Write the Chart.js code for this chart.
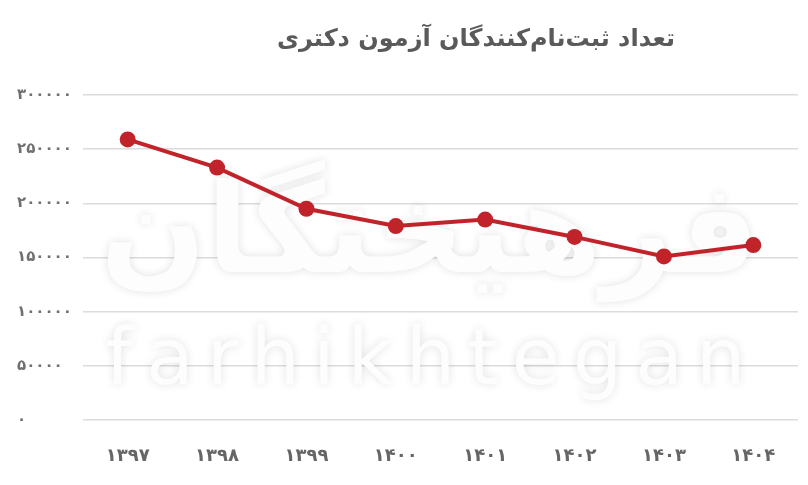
<!DOCTYPE html>
<html>
<head>
<meta charset="utf-8">
<script src="https://cdn.jsdelivr.net/npm/chart.js@4.4.1/dist/chart.umd.min.js"></script>
<style>
  body { margin: 0; background: #fff; }
  #chart { display: block; }
</style>
</head>
<body>
<canvas id="chart" width="808" height="485"></canvas>
<script>
// data
const years = ["۱۳۹۷", "۱۳۹۸", "۱۳۹۹", "۱۴۰۰", "۱۴۰۱", "۱۴۰۲", "۱۴۰۳", "۱۴۰۴"];
const registrants = [259000, 233000, 195000, 179000, 185000, 169000, 151000, 161500];
const yTicks = [0, 50000, 100000, 150000, 200000, 250000, 300000];
const yTickLabels = ["۰", "۵۰۰۰۰", "۱۰۰۰۰۰", "۱۵۰۰۰۰", "۲۰۰۰۰۰", "۲۵۰۰۰۰", "۳۰۰۰۰۰"];
const title = "تعداد ثبت‌نام‌کنندگان آزمون دکتری";

const RED = "#c1232b";
const FONT = "'DejaVu Sans', sans-serif";

// faint site watermark behind the line
const watermark = {
    id: "watermark",
    beforeDatasetsDraw(chart) {
        const ctx = chart.ctx;
        ctx.save();
        ctx.fillStyle = "#fdfdfd";
        ctx.shadowColor = "rgba(0,0,0,0.12)";
        ctx.shadowBlur = 10;
        ctx.textAlign = "center";
        ctx.textBaseline = "alphabetic";
        ctx.font = "bold 124px " + FONT;
        ctx.fillText("فرهیختگان", 430, 272);
        ctx.font = "78px " + FONT;
        ctx.letterSpacing = "13px";
        ctx.fillText("farhikhtegan", 432, 384);
        ctx.restore();
    }
};

// title drawn a bit right of centre like the source
const titlePlugin = {
    id: "titleText",
    afterDraw(chart) {
        const ctx = chart.ctx;
        ctx.save();
        ctx.fillStyle = "#5a5a5a";
        ctx.font = "bold 24px " + FONT;
        ctx.textAlign = "center";
        ctx.textBaseline = "middle";
        ctx.fillText(title, 476, 40);
        ctx.restore();
    }
};

new Chart(document.getElementById("chart"), {
    type: "line",
    data: {
        labels: years,
        datasets: [{
            data: registrants,
            borderColor: RED,
            backgroundColor: RED,
            borderWidth: 4,
            pointRadius: 8,
            pointHoverRadius: 8,
            pointBackgroundColor: RED,
            pointBorderWidth: 0,
            tension: 0
        }]
    },
    plugins: [watermark, titlePlugin],
    options: {
        responsive: false,
        animation: false,
        layout: { padding: { left: 17, right: 10, top: 95, bottom: 0 } },
        plugins: {
            legend: { display: false },
            tooltip: { enabled: false },
            title: { display: false }
        },
        scales: {
            x: {
                offset: true,
                grid: { display: false },
                border: { display: false },
                ticks: {
                    color: "#666",
                    font: { family: FONT, size: 18, weight: "bold" },
                    padding: 18,
                    maxRotation: 0
                },
                afterFit(scale) { scale.height = 65; }
            },
            y: {
                min: 0,
                max: 300000,
                grid: { color: "#dcdcdc", lineWidth: 1.5, drawTicks: false },
                border: { display: false },
                afterBuildTicks(scale) {
                    scale.ticks = yTicks.map(v => ({ value: v }));
                },
                ticks: {
                    color: "#707070",
                    font: { family: FONT, size: 15, weight: "bold" },
                    crossAlign: "far",
                    padding: 12,
                    callback: (v) => yTickLabels[yTicks.indexOf(v)]
                },
                afterFit(scale) { scale.width = 66; }
            }
        }
    }
});
</script>
</body>
</html>
